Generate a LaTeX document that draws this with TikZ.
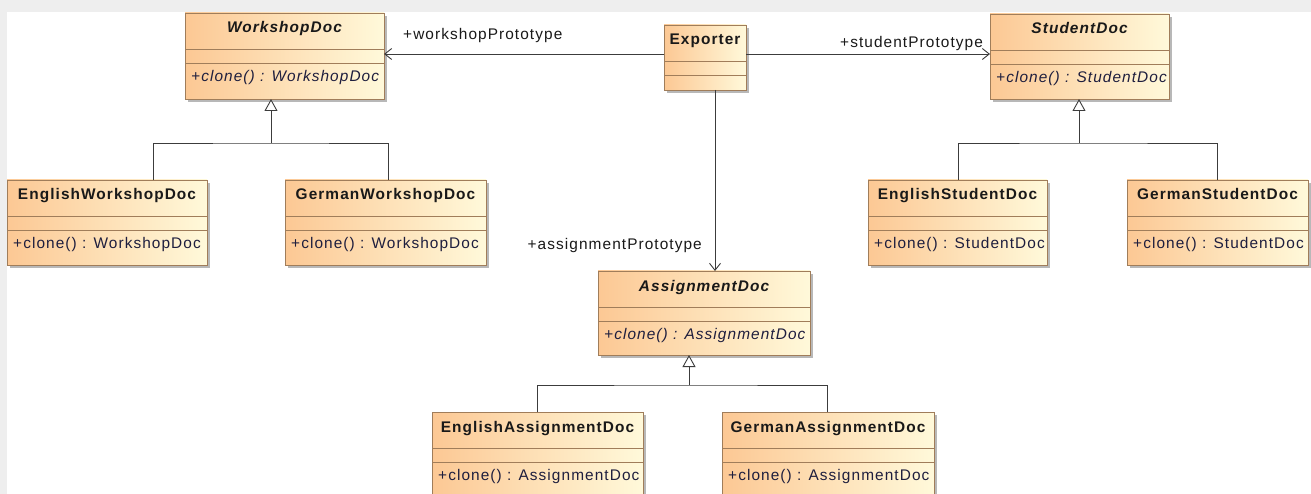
\documentclass[tikz,border=0pt]{standalone}
\usepackage{fontspec}
\setmainfont{Liberation Sans}[LetterSpace=7]
\usetikzlibrary{arrows.meta,calc,shadows}
\definecolor{bgc}{HTML}{EEEEEE}
\definecolor{boxline}{RGB}{160,125,90}
\definecolor{fillL}{RGB}{252,200,148}
\definecolor{fillR}{RGB}{255,249,218}
\definecolor{titlec}{RGB}{25,25,25}
\definecolor{methc}{RGB}{30,30,62}
\definecolor{connc}{RGB}{60,60,60}
\newcommand{\umlfont}{\fontsize{15.4}{18}\selectfont}
\tikzset{
  classbox/.style={draw=boxline, line width=0.9pt, left color=fillL, right color=fillR,
    inner sep=0pt, outer sep=0pt, anchor=north west,
    drop shadow={shadow xshift=3pt, shadow yshift=-3pt, fill=black, opacity=0.28}},
  sepline/.style={draw=boxline, line width=0.9pt},
  ttl/.style={anchor=base, text=titlec, font=\umlfont\bfseries, inner sep=0pt},
  ttli/.style={anchor=base, text=titlec, font=\umlfont\bfseries\itshape, inner sep=0pt},
  meth/.style={anchor=base west, text=methc, font=\umlfont, inner sep=0pt},
  methi/.style={anchor=base west, text=methc, font=\umlfont\itshape, inner sep=0pt},
  conn/.style={draw=connc, line width=0.9pt},
  assoc/.style={conn, -{Straight Barb[length=7pt,width=11pt,line width=0.9pt]}},
  gen/.style={conn, -{Triangle[open,fill=white,length=12pt,width=13pt,line width=0.9pt]}},
  lbl/.style={text=titlec, font=\umlfont, inner sep=0pt},
}
\newcommand{\umlclass}[7]{%
  \node[classbox, minimum width=#4pt, minimum height=#5pt] (#1) at (#2,#3) {};
  \draw[sepline] ($(#1.north west)+(0,36)$) -- ($(#1.north east)+(0,36)$);
  \draw[sepline] ($(#1.north west)+(0,50.5)$) -- ($(#1.north east)+(0,50.5)$);
  \node[#6] (#1-t) at ($(#1.north)+(0,20)$) {#7};
}
\newcommand{\umlmeth}[3]{%
  \node[#2] (#1-m) at ($(#1.north west)+(6,68.5)$) {#3};
}
\begin{document}
\begin{tikzpicture}[x=1pt,y=-1pt,font=\umlfont]
\useasboundingbox (0,0) rectangle (1311,494);
\clip (0,0) rectangle (1311,494);
\fill[bgc] (0,0) rectangle (1311,494);
\fill[white] (7,12) rectangle (1311,494);

% classes
\umlclass{wd}{185}{13}{199}{86}{ttli}{WorkshopDoc}
\umlmeth{wd}{methi}{+clone() : WorkshopDoc}
\umlclass{exp}{664}{25}{82}{65}{ttl}{Exporter}
\umlclass{sd}{990}{14}{179}{85}{ttli}{StudentDoc}
\umlmeth{sd}{methi}{+clone() : StudentDoc}
\umlclass{ewd}{7}{180}{200}{85}{ttl}{EnglishWorkshopDoc}
\umlmeth{ewd}{meth}{+clone() : WorkshopDoc}
\umlclass{gwd}{285}{180}{201}{85}{ttl}{GermanWorkshopDoc}
\umlmeth{gwd}{meth}{+clone() : WorkshopDoc}
\umlclass{esd}{868}{180}{179}{85}{ttl}{EnglishStudentDoc}
\umlmeth{esd}{meth}{+clone() : StudentDoc}
\umlclass{gsd}{1127}{180}{181}{85}{ttl}{GermanStudentDoc}
\umlmeth{gsd}{meth}{+clone() : StudentDoc}
\umlclass{ad}{598}{271}{212}{84}{ttli}{AssignmentDoc}
\umlmeth{ad}{methi}{+clone() : AssignmentDoc}
\umlclass{ead}{432}{412}{211}{86}{ttl}{EnglishAssignmentDoc}
\umlmeth{ead}{meth}{+clone() : AssignmentDoc}
\umlclass{gad}{722}{412}{212}{86}{ttl}{GermanAssignmentDoc}
\umlmeth{gad}{meth}{+clone() : AssignmentDoc}

% associations
\coordinate (expL) at ($(exp.north west)+(0,29)$);
\coordinate (expR) at ($(exp.north east)+(0,29)$);
\coordinate (expB) at (715,90);
\draw[assoc] (expL) -- (expL -| wd.east);
\draw[assoc] (expR) -- (expR -| sd.west);
\draw[assoc] (expB) -- (expB |- ad.north);
\node[lbl, anchor=base west] (l1) at (403,40) {+workshopPrototype};
\node[lbl, anchor=base west] (l2) at (840,48) {+studentPrototype};
\node[lbl, anchor=base east] (l3) at (702,250) {+assignmentPrototype};

% generalizations
\coordinate (wj) at (271,143);
\coordinate (ewdIn) at (153,180);
\coordinate (gwdIn) at (388,180);
\draw[conn] (ewdIn) |- (wj) -| (gwdIn);
\draw[gen] (wj) -- (wj |- wd.south);

\coordinate (sj) at (1079,143);
\coordinate (esdIn) at (958,180);
\coordinate (gsdIn) at (1217,180);
\draw[conn] (esdIn) |- (sj) -| (gsdIn);
\draw[gen] (sj) -- (sj |- sd.south);

\coordinate (aj) at (689,385);
\coordinate (eadIn) at (537,412);
\coordinate (gadIn) at (827,412);
\draw[conn] (eadIn) |- (aj) -| (gadIn);
\draw[gen] (aj) -- (aj |- ad.south);
\end{tikzpicture}
\end{document}
